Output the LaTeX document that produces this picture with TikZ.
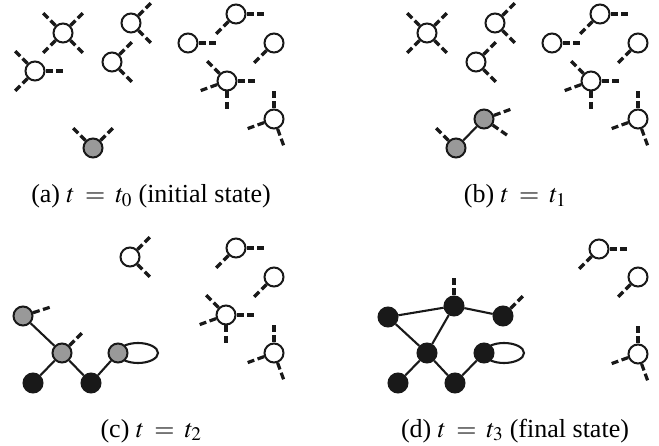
\documentclass[tikz,border=0pt]{standalone}
\usepackage{mathptmx}
\usepackage{fontspec}
\setmainfont{Liberation Serif}
\usetikzlibrary{backgrounds}
\newcommand{\capfont}{\fontsize{26}{30}\selectfont\thickmuskip=7mu\relax}
\tikzset{>=latex}
\tikzset{
  free/.style={circle, draw=black!90, fill=white, line width=2pt,
    minimum size=19pt, inner sep=0pt},
  seed/.style={free, fill=black!40},
  bound/.style={free, fill=black!90},
  stub/.style={black!90, line width=3.2pt, dash pattern=on 7pt off 3.5pt},
  bond/.style={black!90, line width=2.1pt},
  caption/.style={anchor=base, font=\capfont},
}
% dangling bonds of a monomer
\newcommand{\stubs}[2]{\foreach \ang in {#2} {\draw[stub] (#1.\ang) -- ++(\ang:17.5);}}

\begin{document}
\begin{tikzpicture}[x=1pt, y=1pt]
  \useasboundingbox (0,0) rectangle (659,-446);

  % (a)
  \node[free] (a1) at (63,-33) {};    \stubs{a1}{45,135,225,315}
  \node[free] (a2) at (35,-71) {};    \stubs{a2}{0,135,225}
  \node[free] (a3) at (131,-23) {};   \stubs{a3}{45,315}
  \node[free] (a4) at (112,-62) {};   \stubs{a4}{45,315}
  \node[seed] (a5) at (93,-148) {};   \stubs{a5}{45,135}
  \node[free] (a6) at (188,-43) {};   \stubs{a6}{0}
  \node[free] (a7) at (236,-14) {};   \stubs{a7}{0,225}
  \node[free] (a8) at (274,-43) {};   \stubs{a8}{225}
  \node[free] (a9) at (227,-81) {};   \stubs{a9}{0,135,200,270}
  \node[free] (a10) at (274,-119) {}; \stubs{a10}{90,200,290}
  \node[caption] (capa) at (151,-203) {(a) $t = t_0$ (initial state)};

  % (b)
  \begin{scope}[xshift=364pt]
    \node[free] (b1) at (63,-33) {};    \stubs{b1}{45,135,225,315}
    \node[free] (b3) at (131,-23) {};   \stubs{b3}{45,315}
    \node[free] (b4) at (112,-62) {};   \stubs{b4}{45,315}
    \node[seed] (b5) at (92,-148) {};   \stubs{b5}{135}
    \node[seed] (b2) at (120,-119) {};  \stubs{b2}{20,325}
    \draw[bond] (b5) -- (b2);
    \node[free] (b6) at (188,-43) {};   \stubs{b6}{0}
    \node[free] (b7) at (236,-14) {};   \stubs{b7}{0,225}
    \node[free] (b8) at (274,-43) {};   \stubs{b8}{225}
    \node[free] (b9) at (227,-81) {};   \stubs{b9}{0,135,200,270}
    \node[free] (b10) at (274,-119) {}; \stubs{b10}{90,200,290}
    \node[caption] (capb) at (151,-203) {(b) $t = t_1$};
  \end{scope}

  % (c)
  \begin{scope}[yshift=-234pt]
    \node[free] (c3) at (130,-23) {};   \stubs{c3}{45,315}
    \node[free] (c7) at (236,-14) {};   \stubs{c7}{0,225}
    \node[free] (c8) at (274,-43) {};   \stubs{c8}{225}
    \node[free] (c9) at (226,-81) {};   \stubs{c9}{0,135,200,270}
    \node[free] (c10) at (274,-119) {}; \stubs{c10}{90,200,290}
    \node[seed] (c1) at (23,-82) {};    \stubs{c1}{18}
    \node[seed] (c2) at (62,-119) {};   \stubs{c2}{45}
    \node[seed] (c5) at (118,-119) {};
    \node[bound] (c4) at (33,-149) {};
    \node[bound] (c6) at (91,-149) {};
    \draw[bond] (c1) -- (c2);
    \draw[bond] (c2) -- (c4);
    \draw[bond] (c2) -- (c6);
    \draw[bond] (c6) -- (c5);
    \begin{scope}[on background layer]
      \draw[bond] (c5.center) ++(20,0) ellipse [x radius=20pt, y radius=10pt];
    \end{scope}
    \node[caption] (capc) at (151,-203) {(c) $t = t_2$};
  \end{scope}

  % (d)
  \begin{scope}[xshift=364pt, yshift=-234pt]
    \node[free] (d8) at (235,-15) {};   \stubs{d8}{0,225}
    \node[free] (d9) at (274,-43) {};   \stubs{d9}{225}
    \node[free] (d10) at (274,-120) {}; \stubs{d10}{90,200,290}
    \node[bound] (d1) at (24,-83) {};
    \node[bound] (d2) at (90,-72) {};   \stubs{d2}{90}
    \node[bound] (d3) at (139,-82) {};  \stubs{d3}{45}
    \node[bound] (d4) at (63,-119) {};
    \node[bound] (d5) at (120,-119) {};
    \node[bound] (d6) at (34,-149) {};
    \node[bound] (d7) at (91,-149) {};
    \draw[bond] (d1) -- (d2);
    \draw[bond] (d2) -- (d3);
    \draw[bond] (d1) -- (d4);
    \draw[bond] (d2) -- (d4);
    \draw[bond] (d4) -- (d6);
    \draw[bond] (d4) -- (d7);
    \draw[bond] (d7) -- (d5);
    \begin{scope}[on background layer]
      \draw[bond] (d5.center) ++(20,0) ellipse [x radius=20pt, y radius=10pt];
    \end{scope}
    \node[caption] (capd) at (151,-203) {(d) $t = t_3$ (final state)};
  \end{scope}
\end{tikzpicture}
\end{document}
